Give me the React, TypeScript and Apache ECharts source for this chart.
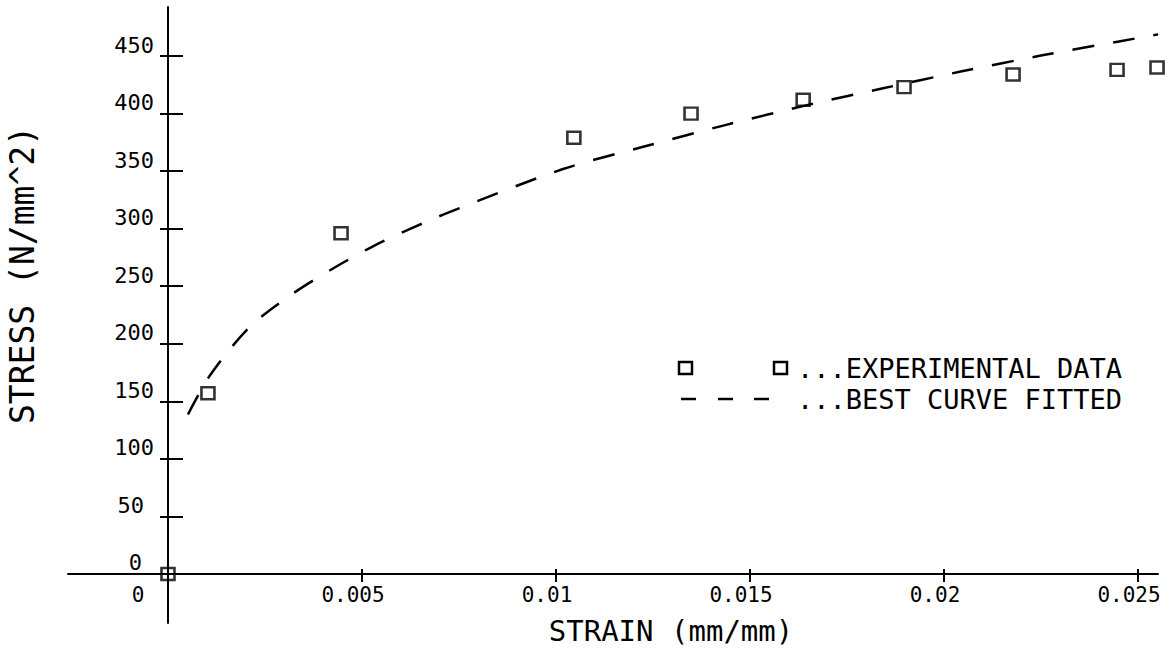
import React, { useEffect, useRef } from "react";
import * as echarts from "echarts";

// Experimental data (strain mm/mm, stress N/mm^2)
const strain = [0, 0.00103, 0.00446, 0.01046, 0.01348, 0.01637, 0.01897, 0.02178, 0.02446, 0.02549];
const stress = [0, 157, 296, 379, 400, 412, 423, 434, 438, 440];

// Best fitted curve
const fitStrain = [0.000515, 0.00108, 0.00209, 0.00314, 0.0042, 0.00521, 0.00624, 0.00727, 0.01018, 0.01232, 0.01436, 0.01655, 0.01843, 0.02046, 0.02253, 0.02451, 0.02552];
const fitStress = [138.6, 172.4, 214, 241.8, 264.3, 283.4, 299.8, 314.6, 351.8, 371.8, 390, 408, 422, 436.7, 450.6, 462.7, 468.8];

const xTicks = [0, 0.005, 0.01, 0.015, 0.02, 0.025];
const yTicks = [0, 50, 100, 150, 200, 250, 300, 350, 400, 450];

const xTitle = "STRAIN (mm/mm)";
const yTitle = "STRESS (N/mm^2)";
const legendScatter = "...EXPERIMENTAL DATA";
const legendLine = "...BEST CURVE FITTED";

const FONT = "DejaVu Sans Mono";

const X_MIN = -0.002577;
const X_MAX = 0.025515;
const Y_MIN = -42.6;
const Y_MAX = 492.6;

export default function App() {
  const ref = useRef<HTMLDivElement>(null);
  useEffect(() => {
    if (!ref.current) return;
    const chart = echarts.init(ref.current, null, { renderer: "svg" });
    const axisLineStyle = { color: "#000", width: 2 };
    const tickLine = { color: "#000", width: 2 };
    const common = { type: "value" as const, splitLine: { show: false } };
    const xCommon = { ...common, min: X_MIN, max: X_MAX, position: "bottom", offset: -49 };
    const yCommon = { ...common, min: Y_MIN, max: Y_MAX, position: "left", offset: -100 };
    const row1 = 368;
    const row2 = 399;
    chart.setOption({
      animation: false,
      backgroundColor: "#fff",
      grid: { left: 68, right: 15, top: 7, bottom: 26, containLabel: false, outerBoundsMode: "none" },
      xAxis: [
        {
          ...xCommon,
          axisLine: { show: true, onZero: false, lineStyle: axisLineStyle },
          axisTick: { show: true, inside: false, length: 8, customValues: xTicks, lineStyle: tickLine },
          axisLabel: {
            show: true,
            customValues: xTicks,
            margin: 10,
            color: "#000",
            fontFamily: FONT,
            fontSize: 21,
            formatter: (v: number) => (v === 0 ? "{z|0}" : "{n|" + String(v) + "}"),
            rich: {
              z: { fontFamily: FONT, fontSize: 21, color: "#000", padding: [0, 60, 0, 0] },
              n: { fontFamily: FONT, fontSize: 21, color: "#000", padding: [0, 18, 0, 0] },
            },
          },
        },
        {
          ...xCommon,
          axisLine: { show: false, onZero: false },
          axisTick: { show: true, inside: true, length: 5, customValues: xTicks, lineStyle: tickLine },
          axisLabel: { show: false },
        },
      ],
      yAxis: [
        {
          ...yCommon,
          axisLine: { show: true, onZero: false, lineStyle: axisLineStyle },
          axisTick: { show: true, inside: false, length: 8, customValues: yTicks, lineStyle: tickLine },
          axisLabel: {
            show: true,
            customValues: yTicks,
            margin: 14,
            color: "#000",
            fontFamily: FONT,
            fontSize: 22,
            verticalAlign: "bottom",
            formatter: (v: number) => (v === 0 ? "{z|0}" : v < 100 ? "{s|" + v + "}" : "{n|" + v + "}"),
            rich: {
              z: { fontFamily: FONT, fontSize: 22, color: "#000", padding: [0, 12, 0, 0] },
              s: { fontFamily: FONT, fontSize: 22, color: "#000", padding: [0, 10, 0, 0] },
              n: { fontFamily: FONT, fontSize: 22, color: "#000" },
            },
          },
        },
        {
          ...yCommon,
          axisLine: { show: false, onZero: false },
          axisTick: { show: true, inside: true, length: 15, customValues: yTicks, lineStyle: tickLine },
          axisLabel: { show: false },
        },
      ],
      series: [
        {
          type: "line",
          name: "BEST CURVE FITTED",
          xAxisIndex: 0,
          yAxisIndex: 0,
          data: fitStrain.map((x, i) => [x, fitStress[i]]),
          smooth: 0.3,
          showSymbol: false,
          symbol: "none",
          lineStyle: { color: "#000", width: 2.5, type: [22, 19] },
          z: 2,
        },
        {
          type: "scatter",
          name: "EXPERIMENTAL DATA",
          xAxisIndex: 0,
          yAxisIndex: 0,
          data: strain.map((x, i) => [x, stress[i]]),
          symbol: "rect",
          symbolSize: [13, 12],
          clip: false,
          itemStyle: { color: "rgba(255,255,255,0)", borderColor: "#000", borderWidth: 2.5 },
          z: 3,
        },
      ],
      graphic: [
        {
          type: "text",
          x: 671,
          y: 631,
          style: { text: xTitle, fontFamily: FONT, fontSize: 29, fill: "#000", textAlign: "center", textVerticalAlign: "middle" },
        },
        {
          type: "text",
          x: 22,
          y: 275,
          rotation: Math.PI / 2,
          style: { text: yTitle, fontFamily: FONT, fontSize: 33, fill: "#000", textAlign: "center", textVerticalAlign: "middle" },
        },
        { type: "rect", shape: { x: 679, y: row1 - 6, width: 13, height: 12 }, style: { fill: "none", stroke: "#000", lineWidth: 2.5 } },
        { type: "rect", shape: { x: 774, y: row1 - 6, width: 13, height: 12 }, style: { fill: "none", stroke: "#000", lineWidth: 2.5 } },
        {
          type: "text",
          x: 797,
          y: row1,
          style: { text: legendScatter, fontFamily: FONT, fontSize: 27, fill: "#000", textAlign: "left", textVerticalAlign: "middle" },
        },
        { type: "line", shape: { x1: 681, y1: row2, x2: 696, y2: row2 }, style: { stroke: "#000", lineWidth: 2.5 } },
        { type: "line", shape: { x1: 718, y1: row2, x2: 733, y2: row2 }, style: { stroke: "#000", lineWidth: 2.5 } },
        { type: "line", shape: { x1: 754, y1: row2, x2: 769, y2: row2 }, style: { stroke: "#000", lineWidth: 2.5 } },
        {
          type: "text",
          x: 797,
          y: row2,
          style: { text: legendLine, fontFamily: FONT, fontSize: 27, fill: "#000", textAlign: "left", textVerticalAlign: "middle" },
        },
      ],
    });
    return () => chart.dispose();
  }, []);
  return <div ref={ref} style={{ position: "fixed", left: 0, top: 0, width: 1173, height: 649 }} />;
}
